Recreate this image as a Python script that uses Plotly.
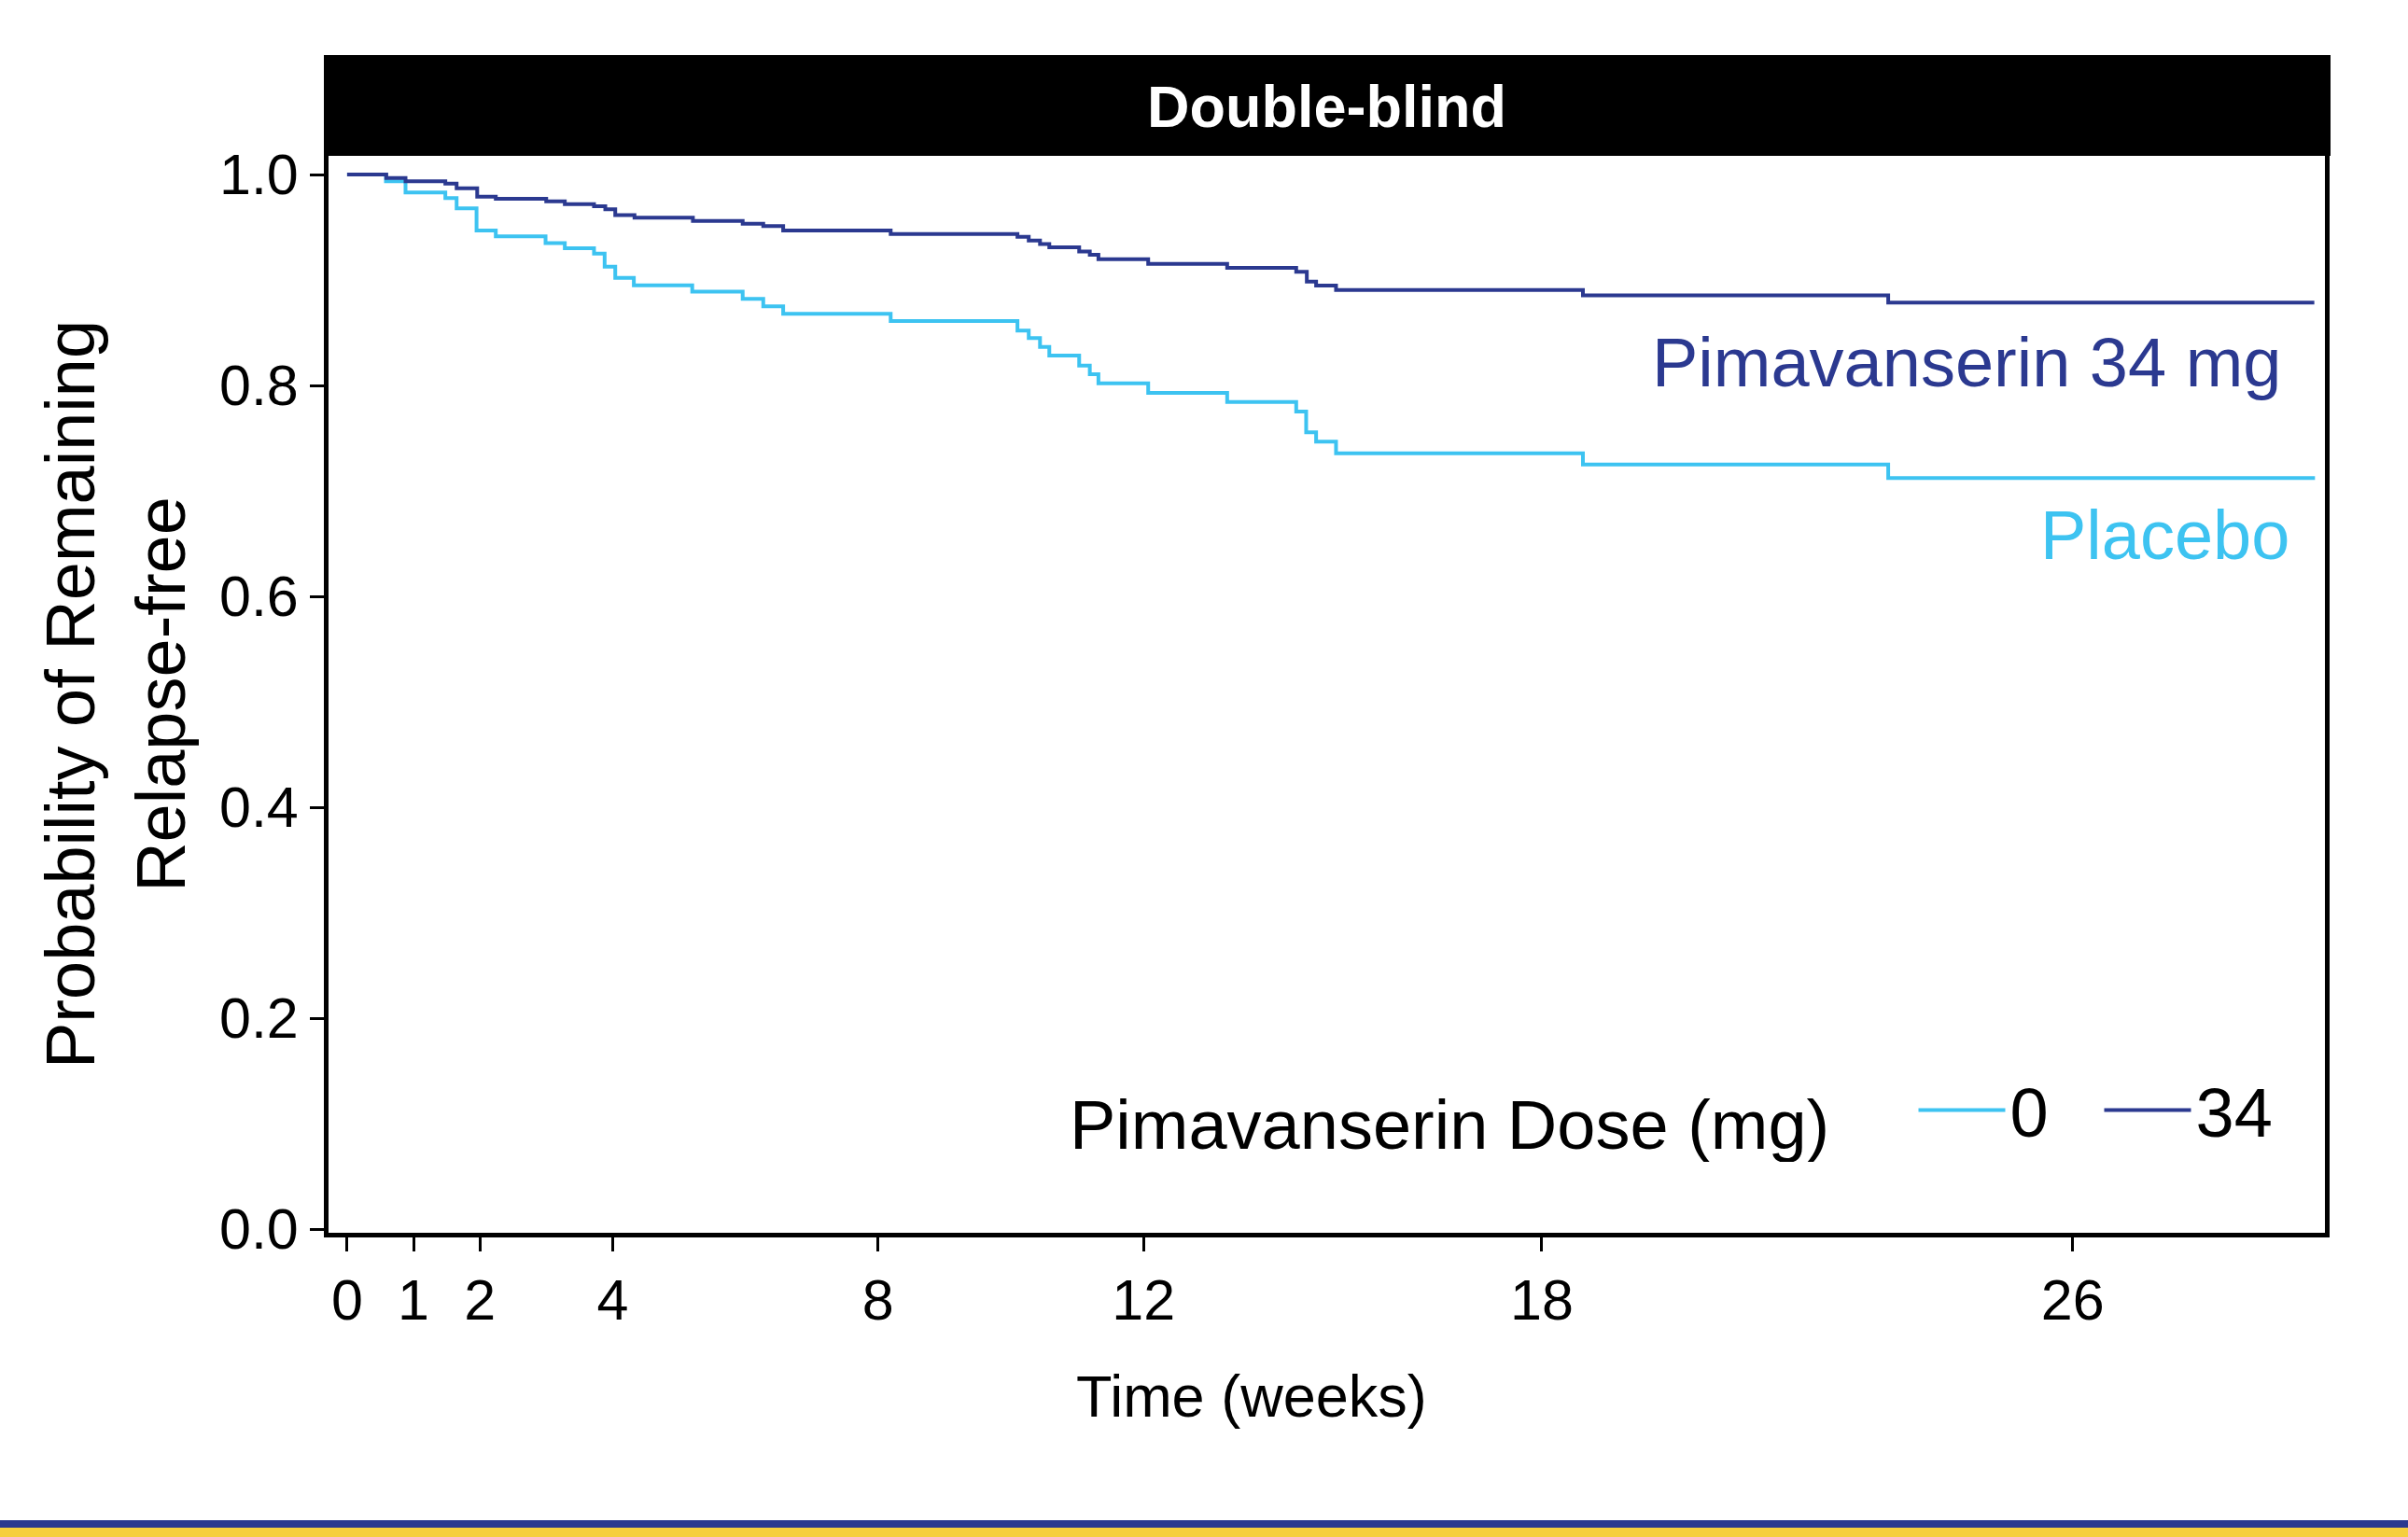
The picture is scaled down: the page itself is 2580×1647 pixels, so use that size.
import plotly.graph_objects as go

# ---- data ----
weeks_placebo = [0, 0.585, 0.88, 1.48, 1.65, 1.95, 2.24, 2.99, 3.28, 3.72, 3.88, 4.04, 4.32,
                 5.2, 5.96, 6.27, 6.57, 8.19, 10.1, 10.27, 10.44, 10.58, 11.03, 11.19, 11.32,
                 12.07, 13.26, 14.30, 14.45, 14.6, 14.9, 18.62, 23.22, 29.65]
surv_placebo = [1.0, 0.9935, 0.983, 0.9776, 0.968, 0.947, 0.9413, 0.935, 0.930, 0.925, 0.9127,
                0.902, 0.895, 0.889, 0.882, 0.875, 0.868, 0.861, 0.852, 0.845, 0.8366, 0.8283,
                0.8189, 0.8106, 0.802, 0.7929, 0.7843, 0.7752, 0.7555, 0.7466, 0.7357, 0.725,
                0.7121, 0.7121]

weeks_pima34 = [0, 0.59, 0.88, 1.48, 1.65, 1.96, 2.24, 3.0, 3.28, 3.72, 3.89, 4.04, 4.33,
                5.21, 5.96, 6.27, 6.57, 8.19, 10.1, 10.27, 10.44, 10.58, 11.03, 11.19, 11.32,
                12.07, 13.26, 14.30, 14.46, 14.6, 14.9, 18.62, 23.22, 29.64]
surv_pima34 = [1.0, 0.9967, 0.9935, 0.9914, 0.987, 0.979, 0.977, 0.9746, 0.972, 0.970, 0.967,
               0.9615, 0.959, 0.956, 0.9534, 0.951, 0.947, 0.9436, 0.941, 0.9375, 0.934, 0.931,
               0.927, 0.924, 0.9197, 0.9153, 0.9115, 0.9077, 0.8985, 0.8947, 0.8906, 0.8853,
               0.8785, 0.8785]

x_tick_vals = [0, 1, 2, 4, 8, 12, 18, 26]
y_tick_vals = [0.0, 0.2, 0.4, 0.6, 0.8, 1.0]
dose_names = ["0", "34"]
curve_labels = ["Placebo", "Pimavanserin 34 mg"]
panel_title = "Double-blind"
x_title = "Time (weeks)"
y_title = "Probability of Remaining<br>Relapse-free"
legend_title = "Pimavanserin Dose (mg)"

# ---- styling ----
DARK = "#2B3990"
LIGHT = "#3DC3F1"
YELLOW = "#F6CF3E"
FONT = "Liberation Sans, Arial, sans-serif"
W, H = 2580, 1647
ML, MR, MT, MB = 352, 89, 167, 326
PW, PH = W - ML - MR, H - MT - MB


def px_x(px):
    return (px - ML) / PW


def px_y(py):
    return (H - MB - py) / PH


fig = go.Figure()
fig.add_trace(go.Scatter(x=weeks_placebo, y=surv_placebo, mode="lines", name=dose_names[0],
                         line=dict(shape="hv", color=LIGHT, width=4)))
fig.add_trace(go.Scatter(x=weeks_pima34, y=surv_pima34, mode="lines", name=dose_names[1],
                         line=dict(shape="hv", color=DARK, width=4)))

axis_common = dict(showline=True, linewidth=5, linecolor="black", mirror=True,
                   showgrid=False, zeroline=False, ticks="outside", ticklen=15,
                   tickwidth=3, tickcolor="black", tickfont=dict(size=61, color="black"))

fig.update_layout(
    width=W, height=H,
    margin=dict(l=ML, r=MR, t=MT, b=MB, pad=0),
    paper_bgcolor="white", plot_bgcolor="white",
    font=dict(family=FONT, color="black", size=61),
    showlegend=True,
    legend=dict(orientation="h",
                title=dict(text=legend_title + "\u00a0\u00a0\u00a0\u00a0", side="left",
                           font=dict(size=74, color="black")),
                font=dict(size=74, color="black"), x=px_x(2449), xanchor="right",
                y=px_y(1190), yanchor="middle", bgcolor="rgba(0,0,0,0)",
                itemwidth=93, entrywidth=91, entrywidthmode="pixels", traceorder="normal"),
    xaxis=dict(range=[-0.28, 29.80], tickvals=x_tick_vals, **axis_common),
    yaxis=dict(range=[-0.0035, 1.0177], tickvals=y_tick_vals, tickformat=".1f",
               title=dict(text=y_title, font=dict(size=74, color="black"), standoff=14),
               **axis_common),
)

# strip (facet header)
fig.add_shape(type="rect", xref="paper", yref="paper", x0=px_x(347), x1=px_x(2497),
              y0=1.0, y1=px_y(59), fillcolor="black", line=dict(width=0), layer="above")
fig.add_annotation(text="<b>" + panel_title + "</b>", xref="paper", yref="paper", x=0.5,
                   y=px_y(114), xanchor="center", yanchor="middle", showarrow=False,
                   font=dict(size=63, color="white", family=FONT))

# x-axis title (offset to the left as in the reference)
fig.add_annotation(text=x_title, xref="paper", yref="paper", x=px_x(1341), y=px_y(1496),
                   xanchor="center", yanchor="middle", showarrow=False,
                   font=dict(size=63, color="black", family=FONT))

# curve labels
fig.add_annotation(text=curve_labels[1], x=29.18, y=0.822, xanchor="right", yanchor="middle",
                   showarrow=False, font=dict(size=74, color=DARK, family=FONT))
fig.add_annotation(text=curve_labels[0], x=29.3, y=0.658, xanchor="right", yanchor="middle",
                   showarrow=False, font=dict(size=74, color=LIGHT, family=FONT))

# bottom decorative stripes
fig.add_shape(type="rect", xref="paper", yref="paper", x0=-0.3, x1=1.2,
              y0=px_y(1637), y1=px_y(1629), fillcolor=DARK, line=dict(width=0))
fig.add_shape(type="rect", xref="paper", yref="paper", x0=-0.3, x1=1.2,
              y0=px_y(1660), y1=px_y(1637), fillcolor=YELLOW, line=dict(width=0))

fig.write_html("out.html", config={"displayModeBar": False},
               post_script="document.body.style.margin='0';document.body.style.overflow='hidden';")
